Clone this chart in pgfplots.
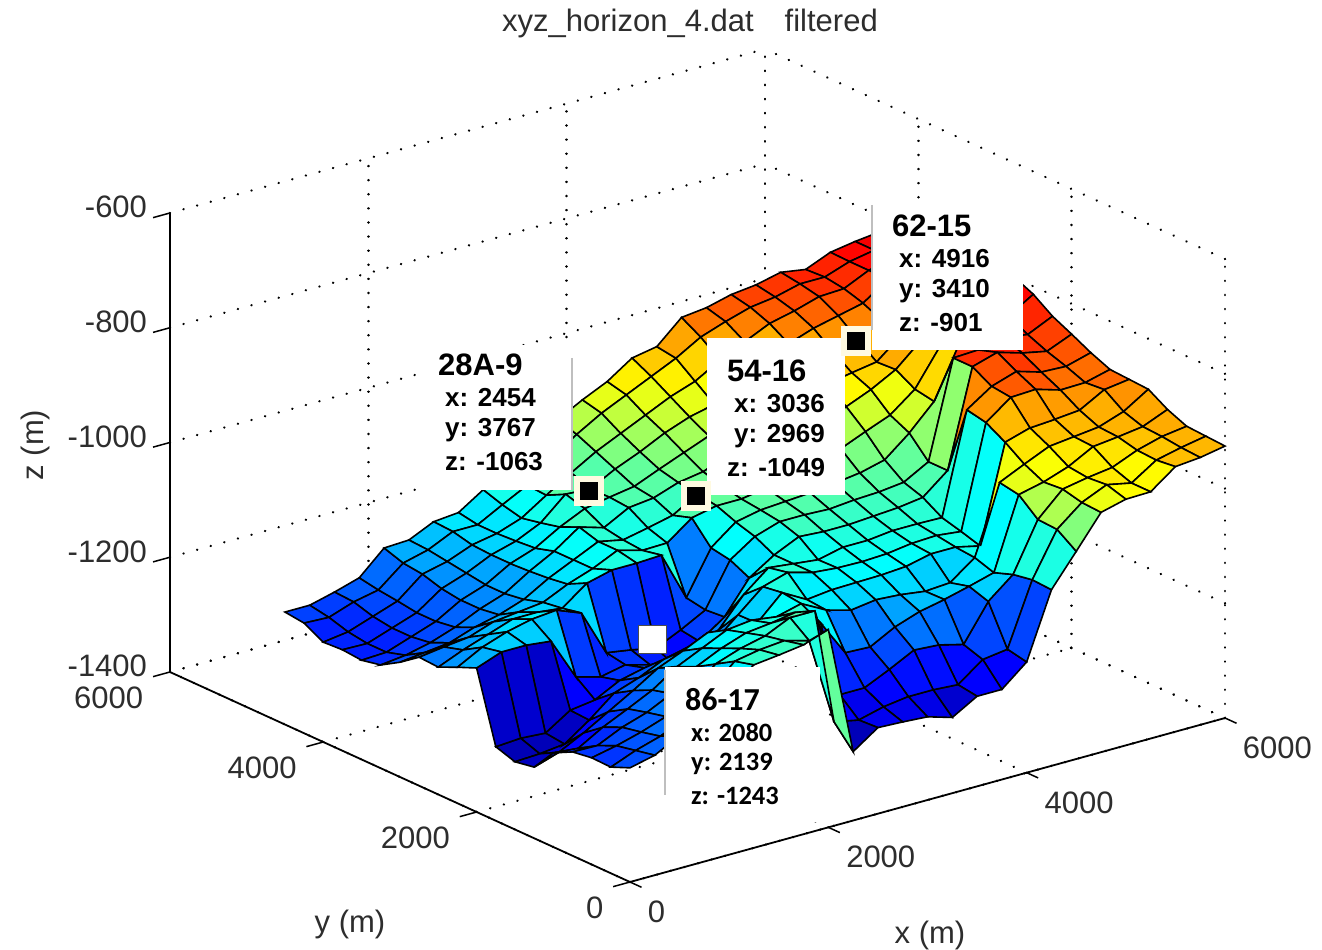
\documentclass[border=0pt]{standalone}
\usepackage{fontspec}
\usepackage{pgfplots}
\pgfplotsset{compat=1.18}
\setmainfont{Liberation Sans}
\newfontfamily\carlito{Carlito}
\definecolor{axgray}{RGB}{45,45,45}
\definecolor{cream}{RGB}{255,250,225}
\newcommand{\PX}[2]{([shift={({(#1-630)*1pt},{(882-#2)*1pt})}]axis cs:0,0,-1400)}
\newcommand{\tl}{\fontsize{31}{34}\selectfont}
\begin{document}
\begin{tikzpicture}
\begin{axis}[
  x={(0.09917pt,0.02733pt)},y={(-0.07667pt,0.035pt)},z={(0pt,0.57375pt)},
  xmin=0,xmax=6000,ymin=0,ymax=6000,zmin=-1400,zmax=-600,
  clip=false,
  axis line style={draw=none},
  xtick={0,2000,4000,6000},ytick={0,2000,4000,6000},ztick={-1400,-1200,-1000,-800,-600},
  xticklabels={0,2000,4000,6000},yticklabels={0,2000,4000,6000},
  zticklabels={-1400,-1200,-1000,-800,-600},
  tick pos=left,
  tick align=outside,major tick length=14pt,
  tick style={draw=none},
  grid=major,
  grid style={black,line width=2.5pt,line cap=round,dash pattern=on 0.1pt off 14pt},
  ticklabel style={font=\tl,text=axgray},
  xticklabel style={anchor=west,inner sep=0pt,xshift=5pt,yshift=-24pt},
  yticklabel style={anchor=east,inner sep=0pt,xshift=-13pt,yshift=-22pt},
  zticklabel style={anchor=east,inner sep=0pt,xshift=-10pt,yshift=0pt},
  colormap={myjet}{rgb(0)=(0,0,0.5) rgb(1)=(0,0,1) rgb(2)=(0,0.5,1) rgb(3)=(0,1,1) rgb(4)=(0.5,1,0.5) rgb(5)=(1,1,0) rgb(6)=(1,0.5,0) rgb(7)=(1,0,0) rgb(8)=(0.5,0,0)},
  point meta min=-1310,point meta max=-770,
]
\draw[black,line width=1.8pt] (axis cs:6000,0,-1400)--(axis cs:0,0,-1400)--(axis cs:0,6000,-1400)--(axis cs:0,6000,-600);
\draw[black,line width=1.5pt] (axis cs:0,0,-1400)--(axis cs:0,-150,-1400) (axis cs:2000,0,-1400)--(axis cs:2000,-150,-1400) (axis cs:4000,0,-1400)--(axis cs:4000,-150,-1400) (axis cs:6000,0,-1400)--(axis cs:6000,-150,-1400);
\draw[black,line width=1.5pt] (axis cs:0,0,-1400)--(axis cs:-170,0,-1400) (axis cs:0,2000,-1400)--(axis cs:-170,2000,-1400) (axis cs:0,4000,-1400)--(axis cs:-170,4000,-1400) (axis cs:0,6000,-1400)--(axis cs:-170,6000,-1400);
\draw[black,line width=1.5pt] (axis cs:0,6000,-1200)--(axis cs:-170,6000,-1200) (axis cs:0,6000,-1000)--(axis cs:-170,6000,-1000) (axis cs:0,6000,-800)--(axis cs:-170,6000,-800) (axis cs:0,6000,-600)--(axis cs:-170,6000,-600);
\addplot3[surf,shader=flat corner,draw=black,line width=1.6pt,z buffer=sort,mesh/rows=19,mesh/cols=25,point meta=z] coordinates {
(0,0,-1201)(250,0,-1191)(500,0,-1168)(750,0,-1145)(1000,0,-1113)(1250,0,-1081)(1500,0,-1076)(1750,0,-1070)(2000,0,-1055)(2250,0,-1280)(2500,0,-1250)(2750,0,-1252)(3000,0,-1255)(3250,0,-1268)(3500,0,-1243)(3750,0,-1243)(4000,0,-1207)(4250,0,-1093)(4500,0,-1038)(4750,0,-982)(5000,0,-971)(5250,0,-970)(5500,0,-938)(5750,0,-934)(6000,0,-926)
(0,250,-1215)(250,250,-1198)(500,250,-1185)(750,250,-1165)(1000,250,-1130)(1250,250,-1090)(1500,250,-1082)(1750,250,-1078)(2000,250,-1090)(2250,250,-1243)(2500,250,-1252)(2750,250,-1241)(3000,250,-1235)(3250,250,-1235)(3500,250,-1238)(3750,250,-1206)(4000,250,-1200)(4250,250,-1091)(4500,250,-1015)(4750,250,-980)(5000,250,-961)(5250,250,-970)(5500,250,-942)(5750,250,-932)(6000,250,-924)
(0,500,-1214)(250,500,-1205)(500,500,-1193)(750,500,-1178)(1000,500,-1150)(1250,500,-1110)(1500,500,-1095)(1750,500,-1085)(2000,500,-1065)(2250,500,-1065)(2500,500,-1223)(2750,500,-1223)(3000,500,-1203)(3250,500,-1181)(3500,500,-1184)(3750,500,-1195)(4000,500,-1132)(4250,500,-1097)(4500,500,-1013)(4750,500,-972)(5000,500,-964)(5250,500,-958)(5500,500,-940)(5750,500,-928)(6000,500,-922)
(0,750,-1219)(250,750,-1220)(500,750,-1200)(750,750,-1186)(1000,750,-1165)(1250,750,-1130)(1500,750,-1110)(1750,750,-1095)(2000,750,-1090)(2250,750,-1083)(2500,750,-1113)(2750,750,-1177)(3000,750,-1179)(3250,750,-1156)(3500,750,-1141)(3750,750,-1132)(4000,750,-1121)(4250,750,-1109)(4500,750,-985)(4750,750,-975)(5000,750,-960)(5250,750,-937)(5500,750,-932)(5750,750,-926)(6000,750,-908)
(0,1000,-1236)(250,1000,-1240)(500,1000,-1215)(750,1000,-1195)(1000,1000,-1174)(1250,1000,-1145)(1500,1000,-1125)(1750,1000,-1105)(2000,1000,-1100)(2250,1000,-1106)(2500,1000,-1095)(2750,1000,-1118)(3000,1000,-1130)(3250,1000,-1124)(3500,1000,-1127)(3750,1000,-1133)(4000,1000,-1130)(4250,1000,-1098)(4500,1000,-979)(4750,1000,-959)(5000,1000,-940)(5250,1000,-935)(5500,1000,-930)(5750,1000,-915)(6000,1000,-888)
(0,1250,-1276)(250,1250,-1262)(500,1250,-1240)(750,1250,-1215)(1000,1250,-1190)(1250,1250,-1163)(1500,1250,-1145)(1750,1250,-1125)(2000,1250,-1135)(2250,1250,-1132)(2500,1250,-1091)(2750,1250,-1115)(3000,1250,-1110)(3250,1250,-1109)(3500,1250,-1108)(3750,1250,-1105)(4000,1250,-1095)(4250,1250,-1095)(4500,1250,-1105)(4750,1250,-936)(5000,1250,-923)(5250,1250,-920)(5500,1250,-916)(5750,1250,-892)(6000,1250,-886)
(0,1500,-1282)(250,1500,-1280)(500,1500,-1275)(750,1500,-1245)(1000,1500,-1210)(1250,1500,-1195)(1500,1500,-1175)(1750,1500,-1165)(2000,1500,-1170)(2250,1500,-1133)(2500,1500,-1096)(2750,1500,-1083)(3000,1500,-1095)(3250,1500,-1099)(3500,1500,-1100)(3750,1500,-1098)(4000,1500,-1092)(4250,1500,-1090)(4500,1500,-1095)(4750,1500,-917)(5000,1500,-885)(5250,1500,-883)(5500,1500,-896)(5750,1500,-895)(6000,1500,-884)
(0,1750,-1271)(250,1750,-1268)(500,1750,-1271)(750,1750,-1243)(1000,1750,-1237)(1250,1750,-1215)(1500,1750,-1205)(1750,1750,-1205)(2000,1750,-1215)(2250,1750,-1174)(2500,1750,-1125)(2750,1750,-1090)(3000,1750,-1095)(3250,1750,-1100)(3500,1750,-1090)(3750,1750,-1090)(4000,1750,-1085)(4250,1750,-1085)(4500,1750,-1086)(4750,1750,-910)(5000,1750,-881)(5250,1750,-867)(5500,1750,-880)(5750,1750,-882)(6000,1750,-870)
(0,2000,-1149)(250,2000,-1133)(500,2000,-1133)(750,2000,-1138)(1000,2000,-1212)(1250,2000,-1224)(1500,2000,-1215)(1750,2000,-1227)(2000,2000,-1240)(2250,2000,-1210)(2500,2000,-1179)(2750,2000,-1123)(3000,2000,-1095)(3250,2000,-1075)(3500,2000,-1078)(3750,2000,-1078)(4000,2000,-1075)(4250,2000,-1072)(4500,2000,-1066)(4750,2000,-1031)(5000,2000,-862)(5250,2000,-849)(5500,2000,-862)(5750,2000,-871)(6000,2000,-853)
(0,2250,-1163)(250,2250,-1140)(500,2250,-1125)(750,2250,-1115)(1000,2250,-1111)(1250,2250,-1128)(1500,2250,-1209)(1750,2250,-1216)(2000,2250,-1225)(2250,2250,-1205)(2500,2250,-1182)(2750,2250,-1107)(3000,2250,-1078)(3250,2250,-1064)(3500,2250,-1064)(3750,2250,-1066)(4000,2250,-1062)(4250,2250,-1060)(4500,2250,-1055)(4750,2250,-1031)(5000,2250,-862)(5250,2250,-860)(5500,2250,-850)(5750,2250,-857)(6000,2250,-837)
(0,2500,-1178)(250,2500,-1160)(500,2500,-1145)(750,2500,-1130)(1000,2500,-1130)(1250,2500,-1135)(1500,2500,-1103)(1750,2500,-1092)(2000,2500,-1092)(2250,2500,-1090)(2500,2500,-1176)(2750,2500,-1101)(3000,2500,-1068)(3250,2500,-1059)(3500,2500,-1056)(3750,2500,-1053)(4000,2500,-1048)(4250,2500,-1042)(4500,2500,-1031)(4750,2500,-996)(5000,2500,-953)(5250,2500,-866)(5500,2500,-835)(5750,2500,-840)(6000,2500,-814)
(0,2750,-1176)(250,2750,-1170)(500,2750,-1165)(750,2750,-1150)(1000,2750,-1145)(1250,2750,-1140)(1500,2750,-1120)(1750,2750,-1105)(2000,2750,-1085)(2250,2750,-1097)(2500,2750,-1096)(2750,2750,-1064)(3000,2750,-1055)(3250,2750,-1055)(3500,2750,-1048)(3750,2750,-1040)(4000,2750,-1028)(4250,2750,-1015)(4500,2750,-997)(4750,2750,-980)(5000,2750,-947)(5250,2750,-885)(5500,2750,-825)(5750,2750,-820)(6000,2750,-799)
(0,3000,-1200)(250,3000,-1195)(500,3000,-1190)(750,3000,-1175)(1000,3000,-1165)(1250,3000,-1150)(1500,3000,-1125)(1750,3000,-1105)(2000,3000,-1085)(2250,3000,-1094)(2500,3000,-1085)(2750,3000,-1075)(3000,3000,-1050)(3250,3000,-1048)(3500,3000,-1038)(3750,3000,-1025)(4000,3000,-1008)(4250,3000,-990)(4500,3000,-969)(4750,3000,-951)(5000,3000,-928)(5250,3000,-890)(5500,3000,-825)(5750,3000,-815)(6000,3000,-800)
(0,3250,-1220)(250,3250,-1215)(500,3250,-1205)(750,3250,-1190)(1000,3250,-1170)(1250,3250,-1155)(1500,3250,-1128)(1750,3250,-1105)(2000,3250,-1075)(2250,3250,-1088)(2500,3250,-1065)(2750,3250,-1060)(3000,3250,-1045)(3250,3250,-1038)(3500,3250,-1022)(3750,3250,-1010)(4000,3250,-990)(4250,3250,-972)(4500,3250,-945)(4750,3250,-937)(5000,3250,-930)(5250,3250,-895)(5500,3250,-830)(5750,3250,-815)(6000,3250,-805)
(0,3500,-1227)(250,3500,-1225)(500,3500,-1210)(750,3500,-1195)(1000,3500,-1170)(1250,3500,-1155)(1500,3500,-1130)(1750,3500,-1115)(2000,3500,-1090)(2250,3500,-1070)(2500,3500,-1062)(2750,3500,-1055)(3000,3500,-1037)(3250,3500,-1020)(3500,3500,-1003)(3750,3500,-992)(4000,3500,-970)(4250,3500,-950)(4500,3500,-925)(4750,3500,-915)(5000,3500,-906)(5250,3500,-885)(5500,3500,-835)(5750,3500,-820)(6000,3500,-810)
(0,3750,-1224)(250,3750,-1225)(500,3750,-1210)(750,3750,-1195)(1000,3750,-1165)(1250,3750,-1150)(1500,3750,-1130)(1750,3750,-1118)(2000,3750,-1098)(2250,3750,-1060)(2500,3750,-1063)(2750,3750,-1040)(3000,3750,-1022)(3250,3750,-1001)(3500,3750,-985)(3750,3750,-975)(4000,3750,-950)(4250,3750,-930)(4500,3750,-905)(4750,3750,-890)(5000,3750,-880)(5250,3750,-870)(5500,3750,-840)(5750,3750,-825)(6000,3750,-815)
(0,4000,-1226)(250,4000,-1220)(500,4000,-1205)(750,4000,-1190)(1000,4000,-1155)(1250,4000,-1145)(1500,4000,-1128)(1750,4000,-1120)(2000,4000,-1105)(2250,4000,-1077)(2500,4000,-1050)(2750,4000,-1025)(3000,4000,-1005)(3250,4000,-985)(3500,4000,-965)(3750,4000,-950)(4000,4000,-925)(4250,4000,-905)(4500,4000,-885)(4750,4000,-875)(5000,4000,-862)(5250,4000,-860)(5500,4000,-840)(5750,4000,-830)(6000,4000,-820)
(0,4250,-1208)(250,4250,-1210)(500,4250,-1195)(750,4250,-1186)(1000,4250,-1151)(1250,4250,-1140)(1500,4250,-1120)(1750,4250,-1120)(2000,4250,-1097)(2250,4250,-1075)(2500,4250,-1040)(2750,4250,-1010)(3000,4250,-985)(3250,4250,-965)(3500,4250,-945)(3750,4250,-925)(4000,4250,-900)(4250,4250,-885)(4500,4250,-872)(4750,4250,-866)(5000,4250,-855)(5250,4250,-855)(5500,4250,-840)(5750,4250,-832)(6000,4250,-825)
(0,4500,-1204)(250,4500,-1204)(500,4500,-1193)(750,4500,-1180)(1000,4500,-1140)(1250,4500,-1138)(1500,4500,-1118)(1750,4500,-1114)(2000,4500,-1086)(2250,4500,-1063)(2500,4500,-1032)(2750,4500,-1000)(3000,4500,-977)(3250,4500,-957)(3500,4500,-928)(3750,4500,-920)(4000,4500,-881)(4250,4500,-876)(4500,4500,-865)(4750,4500,-860)(5000,4500,-850)(5250,4500,-857)(5500,4500,-839)(5750,4500,-832)(6000,4500,-827)
};
\fill[white] \PX{425}{345} rectangle \PX{572}{490};
\fill[white] \PX{707}{338} rectangle \PX{845}{495};
\fill[white] \PX{872}{205} rectangle \PX{1023}{350};
\fill[white] \PX{665}{667} rectangle \PX{820}{822};
\draw[gray!50,line width=1.5pt] \PX{572}{358}--\PX{572}{490};
\draw[gray!50,line width=1.5pt] \PX{872}{205}--\PX{872}{330};
\draw[gray!50,line width=1.5pt] \PX{665}{670}--\PX{665}{795};
\addplot3[only marks,mark=square*,mark size=12pt,mark options={fill=black,draw=cream,line width=6pt}] coordinates {(2500,3767,-1068)(2966,2969,-1049)(4916,3410,-900)};
\addplot3[only marks,mark=square*,mark size=14pt,mark options={fill=white,draw=black!70,line width=1pt}] coordinates {(1960,2240,-1208)};
\begin{scope}[every node/.style={inner sep=0pt,anchor=west}]
\node[font=\fontsize{31}{34}\selectfont\bfseries] at \PX{438}{365} {28A-9};
\node[font=\fontsize{26}{30}\selectfont\bfseries] at \PX{445}{398} {x: 2454};
\node[font=\fontsize{26}{30}\selectfont\bfseries] at \PX{445}{430} {y: 3767};
\node[font=\fontsize{26}{30}\selectfont\bfseries] at \PX{445}{462} {z: -1063};
\node[font=\fontsize{31}{34}\selectfont\bfseries] at \PX{727}{371} {54-16};
\node[font=\fontsize{26}{30}\selectfont\bfseries] at \PX{734}{404} {x: 3036};
\node[font=\fontsize{26}{30}\selectfont\bfseries] at \PX{734}{436} {y: 2969};
\node[font=\fontsize{26}{30}\selectfont\bfseries] at \PX{727}{468} {z: -1049};
\node[font=\fontsize{31}{34}\selectfont\bfseries] at \PX{892}{226} {62-15};
\node[font=\fontsize{26}{30}\selectfont\bfseries] at \PX{899}{259} {x: 4916};
\node[font=\fontsize{26}{30}\selectfont\bfseries] at \PX{899}{291} {y: 3410};
\node[font=\fontsize{26}{30}\selectfont\bfseries] at \PX{899}{323} {z: -901};
\node[font=\carlito\fontsize{32}{34}\selectfont\bfseries] at \PX{685}{700} {86-17};
\node[font=\carlito\fontsize{26.5}{30}\selectfont\bfseries] at \PX{691}{732} {x: 2080};
\node[font=\carlito\fontsize{26.5}{30}\selectfont\bfseries] at \PX{691}{764} {y: 2139};
\node[font=\carlito\fontsize{26.5}{30}\selectfont\bfseries] at \PX{691}{796} {z: -1243};
\end{scope}
\node[font=\tl,text=axgray] at \PX{690}{23} {xyz\_horizon\_4.dat\quad filtered};
\node[font=\tl,text=axgray] at \PX{930}{935} {x (m)};
\node[font=\tl,text=axgray] at \PX{350}{924} {y (m)};
\node[font=\tl,text=axgray,rotate=90] at \PX{35}{445} {z (m)};
\coordinate (O) at (axis cs:0,0,-1400);
\end{axis}
\pgfresetboundingbox
\path[use as bounding box] ([shift={(-630pt,882pt)}]O) rectangle ([shift={(692pt,-68pt)}]O);
\end{tikzpicture}
\end{document}
